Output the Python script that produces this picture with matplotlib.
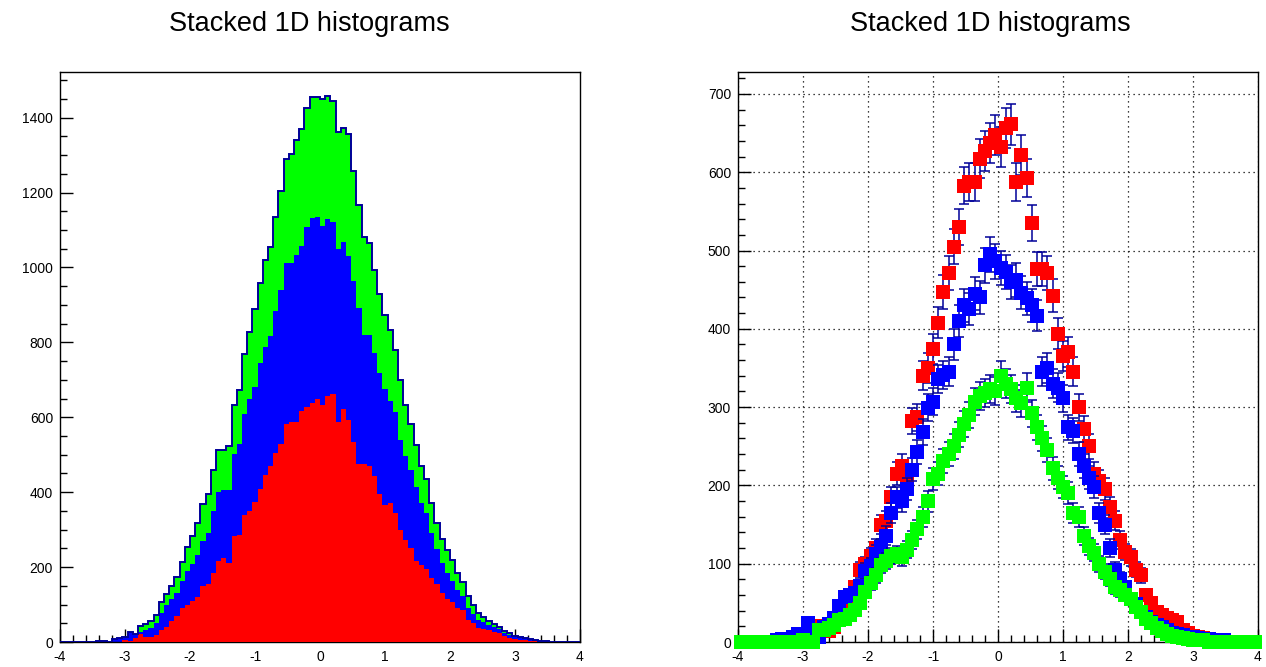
"""
Stacked 1D histograms, ROOT hstack style
left: stacked fill, right: nostack with markers and errors
"""

import numpy as np
import matplotlib
matplotlib.use("Agg")
from matplotlib import pyplot as plt
from matplotlib.ticker import MultipleLocator

plt.rcParams['font.family'] = ['Liberation Sans', 'DejaVu Sans']
plt.rcParams['axes.unicode_minus'] = False

# 100 bins from -4 to 4
x_min = -4.0
x_max = 4.0
n_bins = 100

# bin contents
red_counts = [
    0, 0, 0, 0, 0, 0, 0, 0, 0, 0,
    0, 0, 5, 4, 10, 21, 14, 14, 19, 32,
    41, 55, 70, 92, 99, 110, 120, 150, 155, 185,
    215, 225, 210, 282, 287, 340, 350, 374, 408, 447,
    471, 505, 530, 583, 588, 588, 617, 627, 637, 648,
    632, 656, 661, 588, 622, 593, 535, 476, 476, 471,
    442, 394, 365, 370, 345, 300, 272, 250, 215, 205,
    195, 172, 155, 130, 115, 108, 92, 85, 60, 50,
    38, 34, 31, 28, 25, 15, 12, 8, 6, 5,
    3, 2, 1, 0, 0, 0, 0, 0, 0, 0,
]
blue_counts = [
    0, 0, 0, 0, 0, 0, 0, 3, 4, 0,
    7, 10, 6, 24, 12, 7, 19, 23, 31, 46,
    57, 60, 62, 72, 91, 97, 113, 121, 136, 165,
    185, 180, 195, 220, 243, 268, 299, 307, 336, 341,
    345, 380, 410, 430, 425, 445, 440, 481, 495, 486,
    478, 473, 460, 462, 446, 439, 430, 417, 345, 350,
    330, 325, 311, 274, 270, 240, 225, 210, 198, 165,
    150, 120, 92, 80, 70, 55, 48, 38, 32, 25,
    22, 19, 15, 12, 10, 9, 7, 6, 5, 4,
    4, 3, 2, 2, 0, 0, 0, 0, 0, 0,
]
green_counts = [
    0, 0, 0, 0, 0, 0, 0, 0, 0, 0,
    0, 0, 2, 0, 0, 15, 15, 18, 22, 28,
    30, 35, 41, 50, 64, 75, 85, 98, 104, 110,
    112, 108, 118, 130, 144, 160, 180, 208, 215, 231,
    240, 250, 265, 278, 290, 307, 314, 318, 323, 320,
    340, 330, 323, 311, 305, 325, 292, 274, 260, 245,
    222, 210, 198, 190, 165, 160, 135, 122, 114, 100,
    90, 80, 70, 66, 60, 55, 45, 38, 30, 24,
    18, 14, 10, 8, 6, 5, 4, 3, 3, 2,
    0, 0, 0, 0, 0, 0, 0, 0, 0, 0,
]

title = "Stacked 1D histograms"

# ROOT colours: kRed, kBlue, kGreen, line colour 602
red = '#ff0000'
blue = '#0000ff'
green = '#00ff00'
line_col = '#000099'


def style_axis(ax, ymax, ymajor, yminor):
    ax.set_xlim(x_min, x_max)
    ax.set_ylim(0, ymax)
    ax.xaxis.set_major_locator(MultipleLocator(1))
    ax.xaxis.set_minor_locator(MultipleLocator(0.2))
    ax.yaxis.set_major_locator(MultipleLocator(ymajor))
    ax.yaxis.set_minor_locator(MultipleLocator(yminor))
    ax.tick_params(which='both', direction='in', top=False, right=False,
                   labelsize=10, width=1, colors='black')
    ax.tick_params(which='major', length=9.5)
    ax.tick_params(which='minor', length=4.8)
    ax.tick_params(axis='x', pad=6)
    ax.tick_params(axis='y', pad=5)
    for s in ax.spines.values():
        s.set_linewidth(1)


def main():
    edges = np.linspace(x_min, x_max, n_bins + 1)
    centers = 0.5 * (edges[:-1] + edges[1:])
    r = np.array(red_counts, dtype=float)
    b = np.array(blue_counts, dtype=float)
    g = np.array(green_counts, dtype=float)

    fig = plt.figure(figsize=(12.66, 6.67), dpi=100)
    ax1 = fig.add_axes([60 / 1266, 25 / 667, 520 / 1266, 570 / 667])
    ax2 = fig.add_axes([738 / 1266, 25 / 667, 520 / 1266, 570 / 667])

    # stacked: total first, then lower layers on top
    total = r + b + g
    ax1.stairs(total, edges, fill=True, color=green, zorder=1)
    ax1.stairs(r + b, edges, fill=True, color=blue, zorder=2)
    ax1.stairs(r, edges, fill=True, color=red, zorder=3)
    ax1.stairs(total, edges, color=line_col, linewidth=1.4, zorder=4)
    style_axis(ax1, 1522, 200, 50)

    # nostack: markers with sqrt(N) errors
    ax2.grid(True, which='major', color='black', linewidth=0.9,
             linestyle=(0, (1, 3)))
    ax2.set_axisbelow(True)
    z = 3
    for vals, col in [(r, red), (b, blue), (g, green)]:
        ax2.errorbar(centers, vals, yerr=np.sqrt(vals), fmt='none',
                     ecolor=line_col, elinewidth=1.1, capsize=3.5,
                     capthick=1.1, zorder=z, clip_on=False)
        ax2.plot(centers, vals, 's', color=col, markersize=9.5,
                 markeredgewidth=0, zorder=z + 1, clip_on=False)
        z += 2
    style_axis(ax2, 728, 100, 20)

    fig.text(309 / 1266, 1 - 24 / 667, title, ha='center', va='center',
             fontsize=19.5)
    fig.text(990 / 1266, 1 - 24 / 667, title, ha='center', va='center',
             fontsize=19.5)

    fig.savefig('out.png', dpi=100, facecolor='white')


if __name__ == "__main__":
    main()
